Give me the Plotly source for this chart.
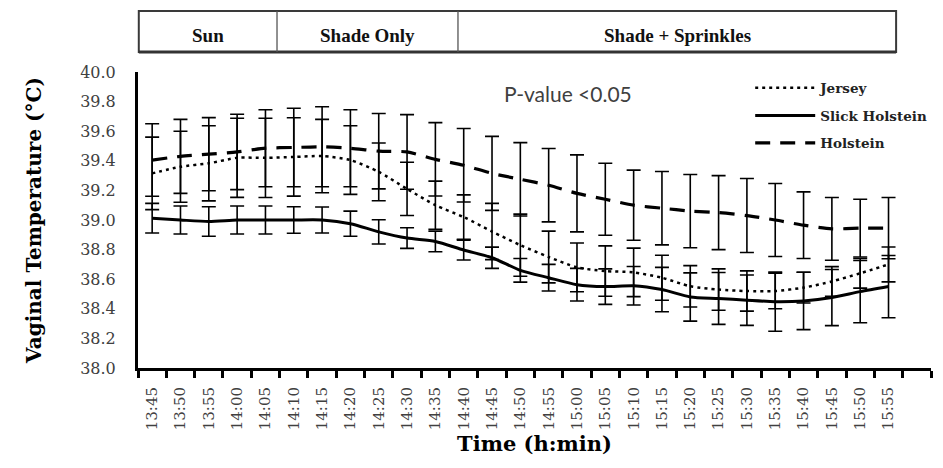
import plotly.graph_objects as go

# Sampling times (5-min intervals)
times = ["13:45", "13:50", "13:55", "14:00", "14:05", "14:10", "14:15", "14:20",
         "14:25", "14:30", "14:35", "14:40", "14:45", "14:50", "14:55", "15:00",
         "15:05", "15:10", "15:15", "15:20", "15:25", "15:30", "15:35", "15:40",
         "15:45", "15:50", "15:55"]

# Mean vaginal temperature (°C) and error per breed
jersey = [39.315, 39.36, 39.383, 39.42, 39.42, 39.426, 39.432, 39.405, 39.325,
          39.21, 39.10, 39.02, 38.922, 38.83, 38.75, 38.68, 38.655, 38.646,
          38.61, 38.552, 38.53, 38.52, 38.52, 38.543, 38.585, 38.64, 38.70]
jersey_err = [0.245, 0.24, 0.254, 0.267, 0.268, 0.265, 0.248, 0.232, 0.195,
              0.18, 0.163, 0.15, 0.19, 0.21, 0.175, 0.165, 0.17, 0.164,
              0.152, 0.14, 0.14, 0.136, 0.12, 0.104, 0.10, 0.10, 0.118]

slick = [39.012, 39.0, 38.99, 39.0, 39.0, 39.0, 39.0, 38.975, 38.92,
         38.878, 38.855, 38.797, 38.745, 38.66, 38.61, 38.563, 38.55, 38.556,
         38.53, 38.48, 38.47, 38.458, 38.448, 38.453, 38.476, 38.516, 38.55]
slick_err = [0.10, 0.095, 0.10, 0.095, 0.095, 0.09, 0.088, 0.085, 0.082,
             0.07, 0.07, 0.067, 0.072, 0.08, 0.09, 0.11, 0.12, 0.13,
             0.15, 0.163, 0.175, 0.17, 0.20, 0.194, 0.19, 0.21, 0.21]

holstein = [39.405, 39.43, 39.445, 39.46, 39.485, 39.49, 39.495, 39.485, 39.465,
            39.46, 39.41, 39.37, 39.315, 39.275, 39.235, 39.18, 39.14, 39.10,
            39.08, 39.06, 39.05, 39.03, 39.00, 38.965, 38.94, 38.945, 38.945]
holstein_err = [0.245, 0.25, 0.247, 0.255, 0.26, 0.265, 0.27, 0.26, 0.255,
                0.252, 0.248, 0.248, 0.25, 0.248, 0.248, 0.26, 0.243, 0.237,
                0.248, 0.247, 0.25, 0.25, 0.247, 0.225, 0.212, 0.195, 0.207]

# Treatment periods shown in the header band (fractions of plot width)
periods = ["Sun", "Shade Only", "Shade + Sprinkles"]
period_edges = [0.001, 0.1753, 0.4035, 0.956]

x = list(range(len(times)))

SERIF = "DejaVu Serif"
TICK_GRAY = "#404040"

series = [
    ("Jersey", jersey, jersey_err, dict(width=2.5, dash="3px,4px")),
    ("Slick Holstein", slick, slick_err, dict(width=3)),
    ("Holstein", holstein, holstein_err, dict(width=3.2, dash="15px,10px")),
]

fig = go.Figure()
for i, (name, vals, err, style) in enumerate(series):
    fig.add_trace(go.Scatter(
        x=x, y=vals, name=name, mode="lines", legendgroup=f"g{i}",
        line=dict(color="black", shape="spline", smoothing=0.7, **style),
        error_y=dict(type="data", array=err, visible=True, color="black",
                     thickness=1.6, width=7),
    ))

# Header band with the three treatment periods
hdr_bot, hdr_top = 1.0676, 1.206
shapes = [
    dict(type="rect", xref="paper", yref="paper", x0=period_edges[0], x1=period_edges[-1],
         y0=hdr_bot, y1=hdr_top, line=dict(color="#3a3a3a", width=2)),
    dict(type="line", xref="paper", yref="paper", x0=period_edges[0], x1=period_edges[-1],
         y0=hdr_bot, y1=hdr_bot, line=dict(color="#333333", width=3)),
]
for e in period_edges[1:-1]:
    shapes.append(dict(type="line", xref="paper", yref="paper", x0=e, x1=e,
                       y0=hdr_bot, y1=hdr_top, line=dict(color="#555555", width=1.3)))

annotations = []
for label, a, b in zip(periods, period_edges[:-1], period_edges[1:]):
    annotations.append(dict(text=label, xref="paper", yref="paper", x=(a + b) / 2,
                            y=1.122, showarrow=False, xanchor="center", yanchor="middle",
                            font=dict(family="Liberation Serif", size=19, color="#111111",
                                      weight="bold")))

annotations.append(dict(text="P-value <0.05", xref="paper", yref="paper", x=0.542, y=0.926,
                        showarrow=False, xanchor="center", yanchor="middle",
                        font=dict(family="Lato", size=21, color=TICK_GRAY)))

fig.update_layout(
    width=943, height=468,
    margin=dict(l=138, r=12, t=72, b=100, autoexpand=False),
    paper_bgcolor="white", plot_bgcolor="white",
    shapes=shapes, annotations=annotations,
    legend=dict(x=0.772, y=0.998, xanchor="left", yanchor="top",
                bgcolor="rgba(0,0,0,0)", itemwidth=60, tracegroupgap=7,
                font=dict(family=SERIF, size=13.5, color="#222222", weight="bold")),
    xaxis=dict(
        range=[-0.5, len(times) + 0.5],
        tickmode="array", tickvals=x, ticktext=times, tickangle=-90,
        ticks="", showgrid=False, zeroline=False,
        showline=True, linecolor="black", linewidth=3,
        tickfont=dict(family=SERIF, size=15, color=TICK_GRAY),
        ticklabelstandoff=10,
        minor=dict(tickmode="array", tickvals=[i - 0.5 for i in range(len(times) + 2)],
                   ticks="outside", ticklen=7, tickwidth=2.5, tickcolor="black"),
        title=dict(text="Time (h:min)", standoff=8,
                   font=dict(family=SERIF, size=21, color="black", weight="bold")),
    ),
    yaxis=dict(
        range=[38, 40], dtick=0.2, tick0=38, tickformat=".1f",
        ticks="", showgrid=False, zeroline=False,
        showline=True, linecolor="black", linewidth=3,
        tickfont=dict(family=SERIF, size=16, color=TICK_GRAY),
        ticklabelstandoff=16,
        title=dict(text="Vaginal Temperature (°C)", standoff=34,
                   font=dict(family=SERIF, size=20, color="black", weight="bold")),
    ),
)

fig.write_html("out.html")
